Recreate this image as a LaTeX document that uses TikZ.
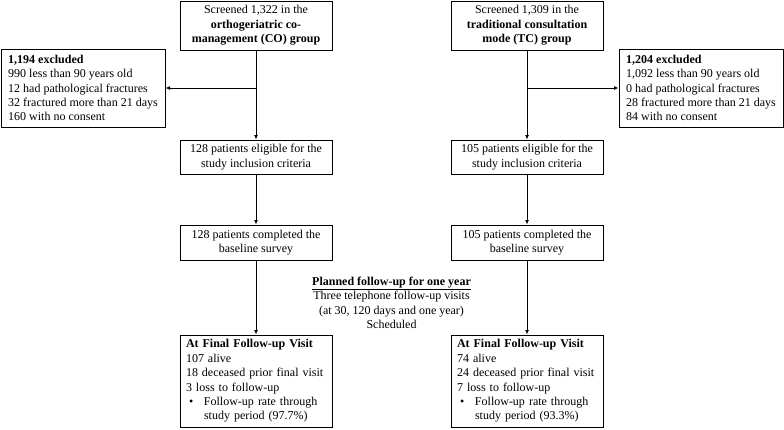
\documentclass[tikz,border=0pt]{standalone}
\usepackage{fontspec}
\setmainfont{Liberation Serif}
\usetikzlibrary{arrows.meta,positioning}
\tikzset{
  flowbox/.style={draw, line width=1pt, inner xsep=4pt, inner ysep=2pt, align=center,
    minimum width=152pt},
  listbox/.style={draw, line width=1pt, inner xsep=6pt, inner ysep=2pt, align=left},
  flowarrow/.style={line width=1pt, -{Latex[length=4.5pt,width=4pt]}}
}
\begin{document}
\begin{tikzpicture}[x=1pt,y=-1pt,font=\fontsize{12}{14.4}\selectfont]
            \useasboundingbox (0,0) rectangle (784,429);
            % left column (CO)
            \node[flowbox, minimum height=49pt] (scrL) at (256,25.5) {Screened 1,322 in the\\ \textbf{orthogeriatric co-}\\ \textbf{management (CO) group}};
            \node[listbox, inner xsep=2pt, minimum width=164pt, minimum height=78pt] (excL) at (83,88) {\textbf{1,194 excluded}\\ 990 less than 90 years old\\ 12 had pathological fractures\\ 32 fractured more than 21 days\\ 160 with no consent};
            \node[flowbox, minimum height=34pt] (eligL) at (256,157) {128 patients eligible for the\\ study inclusion criteria};
            \node[flowbox, minimum height=35pt] (baseL) at (256,242.5) {128 patients completed the\\ baseline survey};
            \node[listbox, minimum width=152pt, minimum height=92pt, text width=140pt] (finL) at (256,381) {\textbf{At Final Follow-up Visit}\\ 107 alive\\ 18 deceased prior final visit\\ 3 loss to follow-up\\ \hspace*{3pt}\makebox[15pt][l]{\textbullet}Follow-up rate through\\ \hspace*{18pt}study period (97.7\%)};
            % right column (TC)
            \node[flowbox, minimum height=49pt] (scrR) at (527,25.5) {Screened 1,309 in the\\ \textbf{traditional consultation}\\ \textbf{mode (TC) group}};
            \node[listbox, inner xsep=2pt, minimum width=164pt, minimum height=78pt] (excR) at (701,88) {\textbf{1,204 excluded}\\ 1,092 less than 90 years old\\ 0 had pathological fractures\\ 28 fractured more than 21 days\\ 84 with no consent};
            \node[flowbox, minimum height=34pt] (eligR) at (527,157) {105 patients eligible for the\\ study inclusion criteria};
            \node[flowbox, minimum height=35pt] (baseR) at (527,242.5) {105 patients completed the\\ baseline survey};
            \node[listbox, minimum width=152pt, minimum height=92pt, text width=140pt] (finR) at (527,381) {\textbf{At Final Follow-up Visit}\\ 74 alive\\ 24 deceased prior final visit\\ 7 loss to follow-up\\ \hspace*{3pt}\makebox[15pt][l]{\textbullet}Follow-up rate through\\ \hspace*{18pt}study period (93.3\%)};
            % follow-up plan
            \node[align=center] (plan) at (391.5,303) {\underline{\textbf{Planned follow-up for one year}}\\ Three telephone follow-up visits\\ (at 30, 120 days and one year)\\ Scheduled};
            % connectors
            \draw[flowarrow] (scrL) -- (eligL);
            \draw[flowarrow] (scrL.south |- excL.east) -- (excL.east);
            \draw[flowarrow] (eligL) -- (baseL);
            \draw[flowarrow] (baseL) -- (finL);
            \draw[flowarrow] (scrR) -- (eligR);
            \draw[flowarrow] (scrR.south |- excR.west) -- (excR.west);
            \draw[flowarrow] (eligR) -- (baseR);
            \draw[flowarrow] (baseR) -- (finR);
\end{tikzpicture}
\end{document}
